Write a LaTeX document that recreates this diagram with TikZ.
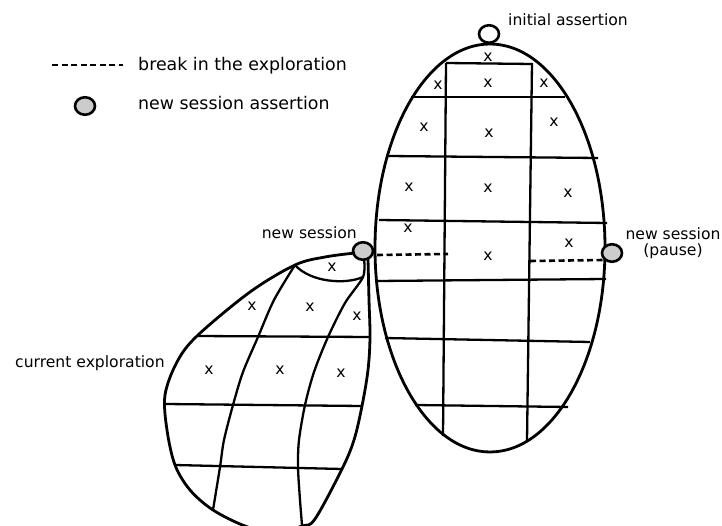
\documentclass[tikz,border=0pt]{standalone}
\usepackage{fontspec}
\setmainfont{DejaVu Sans}
\usetikzlibrary{shapes.geometric}
\begin{document}
\begin{tikzpicture}[x=1pt,y=-1pt,line join=round,
  grid/.style={line width=2.3pt},
  outline/.style={line width=2.8pt},
  sess/.style={ellipse,draw,line width=2.6pt,fill=black!20,minimum width=20pt,minimum height=17.5pt,inner sep=0pt},
  init/.style={sess,fill=white},
  lbl/.style={font=\fontsize{15.6}{16}\selectfont,inner sep=0pt},
  leg/.style={font=\fontsize{17.4}{18}\selectfont,inner sep=0pt},
  xm/.style={font=\fontsize{15.6}{16}\selectfont,inner sep=0pt},
  brk/.style={line width=2.6pt,dash pattern=on 6pt off 3.5pt}]
\useasboundingbox (0,0) rectangle (722,526);

% legend
\coordinate (lg1) at (52,65);
\coordinate (lg2) at (123,65);
\draw[brk] (lg1) -- (lg2);
\node[leg,anchor=base west] (lbreak) at (138,71) {break in the exploration};
\node[sess] (lcirc) at (85,106) {};
\node[leg,anchor=base west] (lsess) at (138,110) {new session assertion};

% big ellipse
\draw[outline] (490,248) ellipse [x radius=115pt,y radius=204pt];
% verticals
\draw[grid] (446,63) -- (443,436);
\draw[grid] (532,63) -- (527,441);
% horizontals
\draw[grid] (446,63) -- (532,64);
\draw[grid] (411,97) -- (565,97);
\draw[grid] (388,156) -- (598,158);
\draw[grid] (379,220) -- (607,223);
\draw[grid] (377,281) -- (606,279);
\draw[grid] (385,338) -- (590,342);
\draw[grid] (415,405) -- (568,407);

% session circles
\node[init] (ia) at (489,34) {};
\node[sess] (nsl) at (363,251) {};
\node[sess] (nsr) at (612,253) {};
\coordinate (bl1) at (377,255);
\coordinate (bl2) at (448,254);
\coordinate (br1) at (530,261);
\coordinate (br2) at (604,260);
\draw[brk] (bl1) -- (bl2);
\draw[brk] (br1) -- (br2);

% labels
\node[lbl,anchor=base west] (tia) at (508,26) {initial assertion};
\node[lbl,anchor=base] (tnsr1) at (673,240) {new session};
\node[lbl,anchor=base] (tnsr2) at (673,256) {(pause)};
\node[lbl,anchor=base east] (tnsl) at (357,239) {new session};
\node[lbl,anchor=base west] (tce) at (15,367) {current exploration};

% x marks big ellipse
\foreach \p [count=\i] in {(488,57),(438,85),(488,83),(544,83),(424,127),(489,133),(554,122),(409,187),(488,188),(568,193),(408,228),(569,243),(488,256)}
  \node[xm] (bx\i) at \p {x};

% drop shape
\draw[outline] plot[smooth,tension=0.55] coordinates {(355,253) (325,257) (295,265) (250,292) (197,336) (177,362) (165,395) (167,430) (175,465) (190,490) (213,510) (245,526) (275,533) (302,526) (315,519) (342,469) (354,440) (362,406) (368,370) (370,337) (369,300) (368,259)};
\draw[grid] plot[smooth] coordinates {(295,265) (274,300) (258,337) (243,372) (233,405) (224,440) (220,467) (213,510)};
\draw[grid] plot[smooth] coordinates {(364,259) (363,277) (345,303) (328,337) (314,372) (305,405) (299,440) (298,467) (300,500) (302,525)};
\draw[grid] (295,265) .. controls (310,282) and (345,285) .. (363,277);
\draw[grid] (197,336) -- (370,337);
\draw[grid] (165,404) -- (362,406);
\draw[grid] (175,465) -- (342,469);

% x marks drop
\foreach \p [count=\i] in {(332,267),(252,306),(310,307),(357,316),(209,370),(280,370),(341,373)}
  \node[xm] (dx\i) at \p {x};
\end{tikzpicture}
\end{document}
